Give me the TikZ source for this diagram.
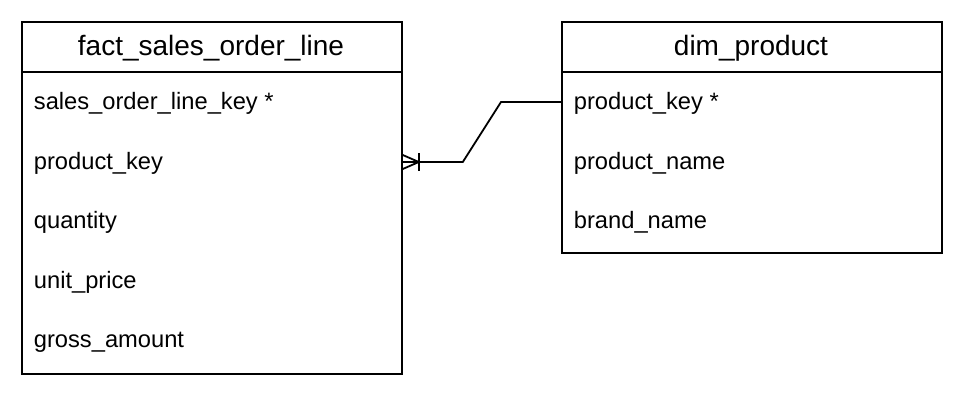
\documentclass[tikz,border=0pt]{standalone}
\usepackage{fontspec}
\setmainfont{Liberation Sans}
\usetikzlibrary{calc}
\begin{document}
\begin{tikzpicture}[x=1pt,y=-1pt,
  line width=1.8pt,
  table/.style={draw,rectangle,minimum width=380pt,anchor=north west,inner sep=0pt},
  title/.style={font=\fontsize{28}{32}\selectfont,anchor=center},
  field/.style={font=\fontsize{23.7}{27}\selectfont,anchor=west,inner sep=0pt}]
\useasboundingbox (0,0) rectangle (962,400);

% fact table
\node[table,minimum height=352pt] (fact) at (21,21) {};
\draw (21,72) -- (401,72);
\node[title] (ft) at (211,48.5) {fact\_sales\_order\_line};
\node[field] (f1) at (33,103) {sales\_order\_line\_key *};
\node[field] (f2) at (33,163) {product\_key};
\node[field] (f3) at (33,222) {quantity};
\node[field] (f4) at (33,282) {unit\_price};
\node[field] (f5) at (33,342) {gross\_amount};

% product dimension
\node[table,minimum height=231pt] (dim) at (561,21) {};
\draw (561,72) -- (941,72);
\node[title] (dt) at (751,48.5) {dim\_product};
\node[field] (d1) at (573,103) {product\_key *};
\node[field] (d2) at (573,163) {product\_name};
\node[field] (d3) at (573,222) {brand\_name};

% relationship: one product to many order lines
\coordinate (pk) at (dim.west |- 0,102);
\coordinate (fk) at (fact.east |- 0,162);
\draw (pk) -- ++(-60,0) -- ($(fk)+(60,0)$) -- (fk);
\draw ($(fk)+(0,-7)$) -- ($(fk)+(16,0)$) -- ($(fk)+(0,7)$);
\draw ($(fk)+(16,-9)$) -- ($(fk)+(16,9)$);
\end{tikzpicture}
\end{document}
